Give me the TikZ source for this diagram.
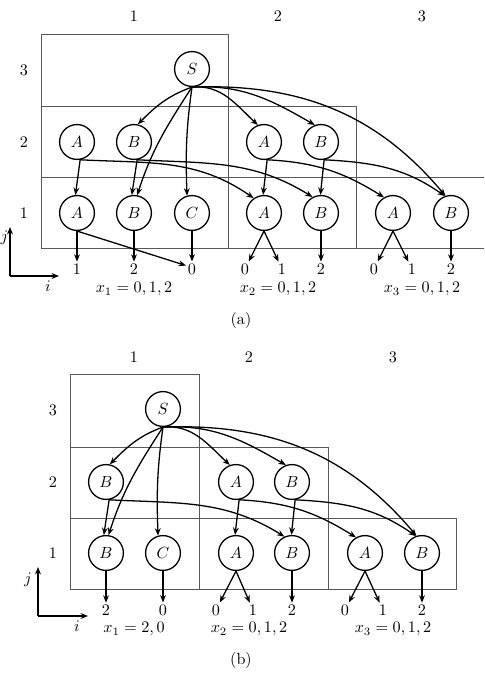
\documentclass[tikz,border=0pt]{standalone}
\usetikzlibrary{arrows.meta}
\begin{document}
\begin{tikzpicture}[x=0.62pt,y=0.62pt,
  st/.style={circle,draw,thick,minimum size=21.6pt,inner sep=0pt},
  grid/.style={draw=black!65,line width=0.5pt},
  arr/.style={thick,-{Stealth[length=4.6pt,width=3.6pt]}},
  dig/.style={inner sep=1pt},
  lab/.style={inner sep=1pt}]
\useasboundingbox (0,0) rectangle (484,675);

% ================= panel (a) =================
\draw[grid] (228,427) -- (41,427) -- (41,641) -- (228,641) -- (228,427);
\draw[grid] (41,569) -- (356,569) -- (356,427);
\draw[grid] (41,498) -- (484,498);
\draw[grid] (228,427) -- (484,427);

\node[lab] (acol1) at (134,659) {1};
\node[lab] (acol2) at (278,659) {2};
\node[lab] (acol3) at (422,659) {3};
\node[lab] (arow3) at (24,605) {3};
\node[lab] (arow2) at (24,533) {2};
\node[lab] (arow1) at (24,462) {1};

\node[st] (aS) at (192,606) {$S$};
\node[st] (aA21) at (77,533) {$A$};
\node[st] (aB21) at (134,533) {$B$};
\node[st] (aA22) at (264,533) {$A$};
\node[st] (aB22) at (321,533) {$B$};
\node[st] (aA11) at (77,462) {$A$};
\node[st] (aB11) at (134,462) {$B$};
\node[st] (aC11) at (192,462) {$C$};
\node[st] (aA12) at (264,462) {$A$};
\node[st] (aB12) at (321,462) {$B$};
\node[st] (aA13) at (393,462) {$A$};
\node[st] (aB13) at (451,462) {$B$};

\node[dig] (ao1) at (77,406) {1};
\node[dig] (ao2) at (134,406) {2};
\node[dig] (ao3) at (192,406) {0};
\node[dig] (ao4) at (245,406) {0};
\node[dig] (ao5) at (282,406) {1};
\node[dig] (ao6) at (321,406) {2};
\node[dig] (ao7) at (374,406) {0};
\node[dig] (ao8) at (412,406) {1};
\node[dig] (ao9) at (451,406) {2};

\node[lab] (ax1) at (134,386) {$x_1=0,1,2$};
\node[lab] (ax2) at (278,386) {$x_2=0,1,2$};
\node[lab] (ax3) at (422,386) {$x_3=0,1,2$};
\node[lab] (acap) at (241,355) {(a)};

\draw[arr] (aS.south) to[out=200,in=45] (aB21.78);
\draw[arr] (aS.south) to[out=237,in=72] (aB11.80);
\draw[arr] (aS.south) to[out=262,in=92] (aC11.106);
\draw[arr] (aS.south) to[out=5,in=137] (aA22.110);
\draw[arr] (aS.south) to[out=3,in=150] (aB22.110);
\draw[arr] (aS.south) to[out=2,in=130] (aB13.108);

\draw[arr] (aA21.-80) -- (aA11.95);
\draw[arr] (aA21.-80) to[out=-3,in=145] (aA12.125);
\draw[arr] (aB21.-80) -- (aB11.97);
\draw[arr] (aB21.-80) to[out=-3,in=148] (aB12.118);
\draw[arr] (aA22.-80) -- (aA12.93);
\draw[arr] (aA22.-80) to[out=-3,in=148] (aA13.120);
\draw[arr] (aB22.-80) -- (aB12.92);
\draw[arr] (aB22.-80) to[out=-3,in=145] (aB13.110);

\draw[arr] (aA11) -- (ao1);
\draw[arr] (aB11) -- (ao2);
\draw[arr] (aC11) -- (ao3);
\draw[arr] (aA11.south) -- (ao3.150);
\draw[arr] (aA12.south) -- (ao4);
\draw[arr] (aA12.south) -- (ao5);
\draw[arr] (aB12) -- (ao6);
\draw[arr] (aA13.south) -- (ao7);
\draw[arr] (aA13.south) -- (ao8);
\draw[arr] (aB13) -- (ao9);

\coordinate (aor) at (10,399);
\coordinate (ajt) at (10,448);
\coordinate (ait) at (59,399);
\draw[arr] (aor) -- (ajt);
\draw[arr] (aor) -- (ait);
\node[lab] (ajl) at (4.5,437) {$j$};
\node[lab] (ail) at (48,389) {$i$};

% ================= panel (b) =================
\draw[grid] (70,86) rectangle (199,301);
\draw[grid] (70,228) -- (328,228) -- (328,86);
\draw[grid] (70,157) -- (456,157) -- (456,86) -- (199,86);

\node[lab] (bcol1) at (134,318) {1};
\node[lab] (bcol2) at (249,318) {2};
\node[lab] (bcol3) at (393,318) {3};
\node[lab] (brow3) at (53,265) {3};
\node[lab] (brow2) at (53,193) {2};
\node[lab] (brow1) at (53,122) {1};

\node[st] (bS) at (163,266) {$S$};
\node[st] (bB21) at (106,193) {$B$};
\node[st] (bA22) at (236,193) {$A$};
\node[st] (bB22) at (292,193) {$B$};
\node[st] (bB11) at (106,122) {$B$};
\node[st] (bC11) at (163,122) {$C$};
\node[st] (bA12) at (236,122) {$A$};
\node[st] (bB12) at (292,122) {$B$};
\node[st] (bA13) at (365,122) {$A$};
\node[st] (bB13) at (422,122) {$B$};

\node[dig] (bo1) at (106,65) {2};
\node[dig] (bo2) at (163,65) {0};
\node[dig] (bo3) at (216,65) {0};
\node[dig] (bo4) at (253,65) {1};
\node[dig] (bo5) at (292,65) {2};
\node[dig] (bo6) at (345,65) {0};
\node[dig] (bo7) at (383,65) {1};
\node[dig] (bo8) at (422,65) {2};

\node[lab] (bx1) at (134,46) {$x_1=2,0$};
\node[lab] (bx2) at (249,46) {$x_2=0,1,2$};
\node[lab] (bx3) at (393,46) {$x_3=0,1,2$};
\node[lab] (bcap) at (241,15) {(b)};

\draw[arr] (bS.south) to[out=200,in=45] (bB21.78);
\draw[arr] (bS.south) to[out=237,in=72] (bB11.82);
\draw[arr] (bS.south) to[out=262,in=92] (bC11.106);
\draw[arr] (bS.south) to[out=5,in=137] (bA22.110);
\draw[arr] (bS.south) to[out=3,in=150] (bB22.110);
\draw[arr] (bS.south) to[out=2,in=130] (bB13.108);

\draw[arr] (bB21.-80) -- (bB11.97);
\draw[arr] (bB21.-80) to[out=-3,in=148] (bB12.115);
\draw[arr] (bA22.-80) -- (bA12.93);
\draw[arr] (bA22.-80) to[out=-3,in=148] (bA13.120);
\draw[arr] (bB22.-80) -- (bB12.92);
\draw[arr] (bB22.-80) to[out=-3,in=145] (bB13.110);

\draw[arr] (bB11) -- (bo1);
\draw[arr] (bC11) -- (bo2);
\draw[arr] (bA12.south) -- (bo3);
\draw[arr] (bA12.south) -- (bo4);
\draw[arr] (bB12) -- (bo5);
\draw[arr] (bA13.south) -- (bo6);
\draw[arr] (bA13.south) -- (bo7);
\draw[arr] (bB13) -- (bo8);

\coordinate (bor) at (38,59);
\coordinate (bjt) at (38,108);
\coordinate (bit) at (88,59);
\draw[arr] (bor) -- (bjt);
\draw[arr] (bor) -- (bit);
\node[lab] (bjl) at (28,95) {$j$};
\node[lab] (bil) at (77,49) {$i$};
\end{tikzpicture}
\end{document}
